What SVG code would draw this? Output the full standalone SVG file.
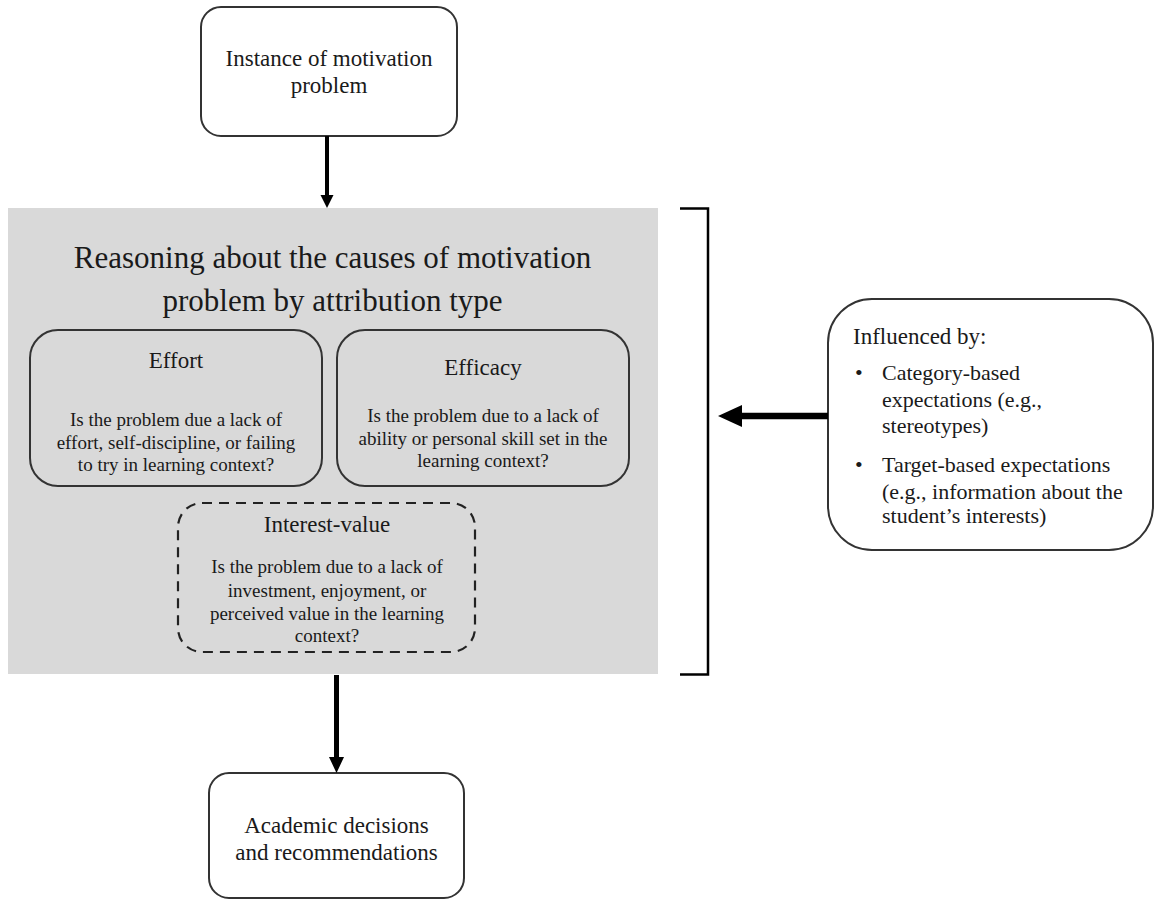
<svg xmlns="http://www.w3.org/2000/svg" width="1154" height="900" viewBox="0 0 1154 900">
<style>
text{font-family:"Liberation Serif","Times New Roman",serif;fill:#1a1a1a}
.c{text-anchor:middle}
.n{font-size:23px}
.b{font-size:19px}
.t{font-size:31px}
.r{font-size:22px}
.box{fill:#fff;stroke:#333;stroke-width:2}
.ibox{fill:none;stroke:#333;stroke-width:2}
.dash{fill:none;stroke:#222;stroke-width:2.2;stroke-dasharray:10 7}
.ln{stroke:#000;fill:none}
</style>
<rect id="panel" x="8" y="208" width="650" height="466" fill="#d9d9d9"/>
<g id="instance">
<rect class="box" x="201" y="7" width="256" height="129" rx="20"/>
<text class="n c" x="329" y="66">Instance of motivation</text>
<text class="n c" x="329" y="93">problem</text>
</g>
<g id="reasoning">
<text class="t c" x="332.5" y="268">Reasoning about the causes of motivation</text>
<text class="t c" x="332.5" y="311">problem by attribution type</text>
</g>
<g id="effort">
<rect class="ibox" x="30" y="330" width="292" height="156" rx="28"/>
<text class="n c" x="176" y="368">Effort</text>
<text class="b c" x="176" y="426">Is the problem due a lack of</text>
<text class="b c" x="176" y="449">effort, self-discipline, or failing</text>
<text class="b c" x="176" y="471">to try in learning context?</text>
</g>
<g id="efficacy">
<rect class="ibox" x="337" y="330" width="292" height="156" rx="28"/>
<text class="n c" x="483" y="375">Efficacy</text>
<text class="b c" x="483" y="422">Is the problem due to a lack of</text>
<text class="b c" x="483" y="445">ability or personal skill set in the</text>
<text class="b c" x="483" y="467">learning context?</text>
</g>
<g id="interest">
<rect class="dash" x="178" y="503" width="297" height="149" rx="24"/>
<text class="n c" x="327" y="532">Interest-value</text>
<text class="b c" x="327" y="573">Is the problem due to a lack of</text>
<text class="b c" x="327" y="596.5">investment, enjoyment, or</text>
<text class="b c" x="327" y="620">perceived value in the learning</text>
<text class="b c" x="327" y="642">context?</text>
</g>
<g id="influenced">
<rect class="box" x="828" y="299" width="325" height="251" rx="44"/>
<text class="n" x="853" y="344">Influenced by:</text>
<text class="r" x="855" y="380">•</text>
<text class="r" x="882" y="380">Category-based</text>
<text class="r" x="882" y="407">expectations (e.g.,</text>
<text class="r" x="882" y="433">stereotypes)</text>
<text class="r" x="855" y="472">•</text>
<text class="r" x="882" y="472">Target-based expectations</text>
<text class="r" x="882" y="499">(e.g., information about the</text>
<text class="r" x="882" y="523">student’s interests)</text>
</g>
<g id="academic">
<rect class="box" x="209" y="773" width="255" height="125" rx="20"/>
<text class="n c" x="336.5" y="833">Academic decisions</text>
<text class="n c" x="336.5" y="860">and recommendations</text>
</g>
<g id="connectors">
<path class="ln" stroke-width="4" d="M327 136V196"/>
<polygon points="320.5,195 333.5,195 327,208" fill="#000"/>
<path class="ln" stroke-width="5" d="M336.5 675V759"/>
<polygon points="329,757 344,757 336.5,773" fill="#000"/>
<path class="ln" stroke-width="2.5" d="M680 208.5H708V674.5H680"/>
<path class="ln" stroke-width="6.5" d="M828 416H738"/>
<polygon points="718,416 742,405 742,427" fill="#000"/>
</g>
</svg>
